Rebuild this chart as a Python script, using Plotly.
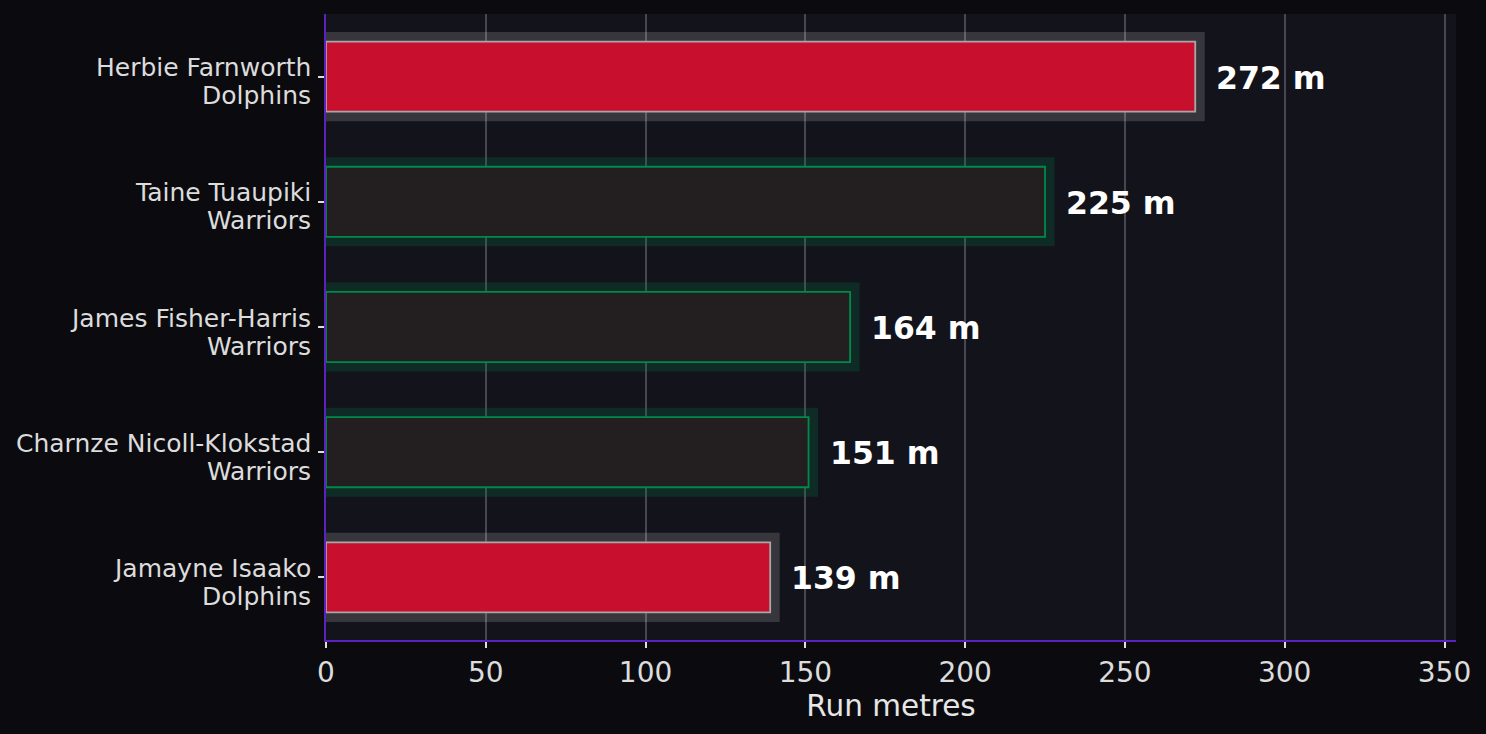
import plotly.graph_objects as go

# datos
players = ['Herbie Farnworth', 'Taine Tuaupiki', 'James Fisher-Harris',
           'Charnze Nicoll-Klokstad', 'Jamayne Isaako']
teams = ['Dolphins', 'Warriors', 'Warriors', 'Warriors', 'Dolphins']
run_metres = [272, 225, 164, 151, 139]

team_fill = {'Dolphins': '#c8102e', 'Warriors': '#231f20'}
team_edge = {'Dolphins': '#a7a7a9', 'Warriors': '#00894b'}
team_glow = {'Dolphins': 'rgba(255,255,255,0.15)', 'Warriors': 'rgba(0,137,75,0.22)'}

fills = [team_fill[t] for t in teams]
edges = [team_edge[t] for t in teams]
glows = [team_glow[t] for t in teams]

fig = go.Figure()

# halo detras de cada barra
fig.add_trace(go.Bar(
    x=run_metres, y=players, orientation='h', width=0.56,
    marker=dict(color=glows, line=dict(color=glows, width=19)),
    hoverinfo='skip', showlegend=False,
))

fig.add_trace(go.Bar(
    x=run_metres, y=players, orientation='h', width=0.56,
    marker=dict(color=fills, line=dict(color=edges, width=1.8)),
    showlegend=False,
))

# etiquetas de valor
for p, v in zip(players, run_metres):
    fig.add_annotation(
        x=v, y=p, text=f'{v} m', showarrow=False,
        xanchor='left', xshift=19, yshift=-1,
        font=dict(family='DejaVu Sans', size=31.5, color='white', weight='bold'),
    )

# etiquetas del eje y en dos lineas (nombre / equipo)
lab_font = dict(family='DejaVu Sans', size=25, color='#dcdcdc')
for p, t in zip(players, teams):
    fig.add_annotation(x=0, xref='paper', y=p, text=p, showarrow=False,
                       xanchor='right', yanchor='middle', xshift=-13, yshift=9,
                       font=lab_font)
    fig.add_annotation(x=0, xref='paper', y=p, text=t, showarrow=False,
                       xanchor='right', yanchor='middle', xshift=-13, yshift=-19,
                       font=lab_font)

axis_col = '#5b22c2'
fig.update_layout(
    width=1486, height=734,
    barmode='overlay',
    paper_bgcolor='#0b0b0f',
    plot_bgcolor='#13131b',
    margin=dict(l=326, r=30, t=14, b=94),
    font=dict(family='DejaVu Sans', color='#dcdcdc'),
    xaxis=dict(
        range=[0, max(run_metres) * 1.3],
        tickvals=[0, 50, 100, 150, 200, 250, 300, 350],
        showgrid=True, gridcolor='#47474f', gridwidth=1.5,
        zeroline=False,
        showline=True, linecolor=axis_col, linewidth=2,
        ticks='outside', ticklen=6, tickwidth=1.5, tickcolor='#dcdcdc',
        tickfont=dict(size=28, color='#dcdcdc'),
        title=dict(text='Run metres', font=dict(size=29.5, color='#e6e6e6'), standoff=4),
    ),
    yaxis=dict(
        range=[4.5, -0.5],
        showgrid=False, zeroline=False,
        showline=True, linecolor=axis_col, linewidth=2,
        ticks='outside', ticklen=6, tickwidth=1.5, tickcolor='#dcdcdc',
        showticklabels=False,
    ),
)

fig.write_html('out.html', config={'displayModeBar': False},
               post_script="document.body.style.margin='0';"
                           "document.body.style.background='#0b0b0f';")
